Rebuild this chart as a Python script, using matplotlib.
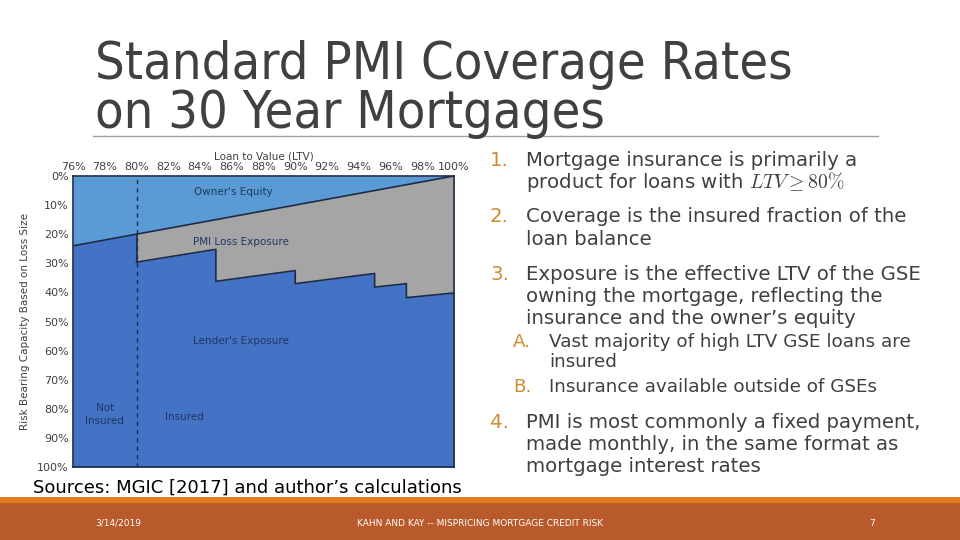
import numpy as np
import matplotlib
matplotlib.use('Agg')
from matplotlib import pyplot as plt

matplotlib.rc('mathtext', fontset='cm')

# Loan-to-value grid (%)
ltv_equity = [76, 100]
equity_top = [24.0, 0.0]          # owner's equity boundary (risk bearing %)

# lender exposure boundary for uninsured loans (76-80)
ltv_uninsured = [76, 80]
lender_uninsured = [24.0, 20.0]

# lender exposure boundary for insured loans (stepped by coverage tier)
ltv_insured = [80, 85, 85, 90, 90, 95, 95, 97, 97, 100]
lender_insured = [29.6, 25.2, 36.2, 32.5, 37.0, 33.5, 38.2, 37.0, 41.8, 40.2]

x_ticks = list(range(76, 101, 2))
y_ticks = list(range(0, 101, 10))

light_blue = '#5b9bd5'
gray = '#a5a5a5'
blue = '#4472c4'
navy = '#1f3864'
edge = '#1c2a48'

fig = plt.figure(figsize=(9.6, 5.4), dpi=100, facecolor='white')

# title
fig.text(95/960, 1 - 79/540, 'Standard PMI Coverage Rates', fontsize=37.5,
         color='#404040', stretch='condensed', va='baseline')
fig.text(95/960, 1 - 128/540, 'on 30 Year Mortgages', fontsize=37.5,
         color='#404040', stretch='condensed', va='baseline')
fig.add_artist(plt.Line2D([93/960, 878/960], [1 - 136/540, 1 - 136/540],
                          color='#a0a0a0', lw=1))

# chart
ax = fig.add_axes([73/960, 1 - 467/540, 381/960, 291/540])
x_eq = np.array(ltv_equity)
eq = np.array(equity_top)
ax.fill_between(x_eq, 0, eq, color=light_blue, lw=0)
# PMI region: between equity line and lender boundary (80-100)
x_ins = np.array(ltv_insured)
eq_ins = np.interp(x_ins, x_eq, eq)
ax.fill_between(x_ins, eq_ins, lender_insured, color=gray, lw=0)
ax.fill_between(ltv_uninsured, lender_uninsured, 100, color=blue, lw=0)
ax.fill_between(x_ins, lender_insured, 100, color=blue, lw=0)
ax.plot(x_eq, eq, color=edge, lw=1.2)
ax.plot(x_ins, lender_insured, color=edge, lw=1.2)
ax.plot([80, 80], [lender_uninsured[-1], lender_insured[0]], color=edge, lw=1.2)
ax.axvline(80, color=edge, ls=(0, (3, 3)), lw=1)

ax.set_xlim(76, 100)
ax.set_ylim(100, 0)
ax.xaxis.tick_top()
ax.xaxis.set_label_position('top')
ax.set_xticks(x_ticks)
ax.set_xticklabels(['%d%%' % v for v in x_ticks])
ax.set_yticks(y_ticks)
ax.set_yticklabels(['%d%%' % v for v in y_ticks])
ax.tick_params(length=0, labelsize=8, colors='#404040', pad=3)
ax.set_xlabel('Loan to Value (LTV)', fontsize=7.5, color='#404040', labelpad=2)
ax.set_ylabel('Risk Bearing Capacity Based on Loss Size', fontsize=7.5,
              color='#404040', labelpad=5)
for s in ax.spines.values():
    s.set_color(edge)
    s.set_linewidth(1.2)

lab = dict(fontsize=7.5, color=navy, ha='center', va='center')
ax.text(86.1, 5.5, "Owner's Equity", **lab)
ax.text(86.6, 22.7, 'PMI Loss Exposure', **lab)
ax.text(86.6, 56.7, "Lender's Exposure", **lab)
ax.text(78.0, 82.0, 'Not\nInsured', linespacing=1.4, **lab)
ax.text(83.0, 82.8, 'Insured', **lab)

fig.text(33/960, 1 - 488/540, 'Sources: MGIC [2017] and author\u2019s calculations',
         fontsize=13, color='black', va='center')

# bullets
num_c = '#d08b32'
txt_c = '#404040'
bullets = [
    ('1.', 160, ['Mortgage insurance is primarily a',
                 'product for loans with $LTV \\geq 80\\%$']),
    ('2.', 217, ['Coverage is the insured fraction of the', 'loan balance']),
    ('3.', 274, ['Exposure is the effective LTV of the GSE',
                 'owning the mortgage, reflecting the',
                 'insurance and the owner\u2019s equity']),
    ('4.', 423, ['PMI is most commonly a fixed payment,',
                 'made monthly, in the same format as',
                 'mortgage interest rates']),
]
for num, y0, lines in bullets:
    fig.text(490/960, 1 - y0/540, num, fontsize=14.2, color=num_c, va='center')
    for i, line in enumerate(lines):
        fig.text(526/960, 1 - (y0 + 22 * i)/540, line, fontsize=14.2,
                 color=txt_c, va='center')
subs = [('A.', 342, ['Vast majority of high LTV GSE loans are', 'insured']),
        ('B.', 387, ['Insurance available outside of GSEs'])]
for letter, y0, lines in subs:
    fig.text(513/960, 1 - y0/540, letter, fontsize=13.2, color=num_c, va='center')
    for i, line in enumerate(lines):
        fig.text(549/960, 1 - (y0 + 20 * i)/540, line, fontsize=13.2,
                 color=txt_c, va='center')

# footer
fig.add_artist(plt.Rectangle((0, 0), 1, 37/540, color='#b85a2c', lw=0))
fig.add_artist(plt.Rectangle((0, 37/540), 1, 6/540, color='#e07c1c', lw=0))
fig.text(95/960, 1 - 523/540, '3/14/2019', fontsize=6.5, color='white', va='center')
fig.text(480/960, 1 - 523/540, 'KAHN AND KAY -- MISPRICING MORTGAGE CREDIT RISK',
         fontsize=6.5, color='white', va='center', ha='center')
fig.text(872/960, 1 - 523/540, '7', fontsize=6.5, color='white', va='center',
         ha='center')

fig.savefig('out.png', dpi=100)
